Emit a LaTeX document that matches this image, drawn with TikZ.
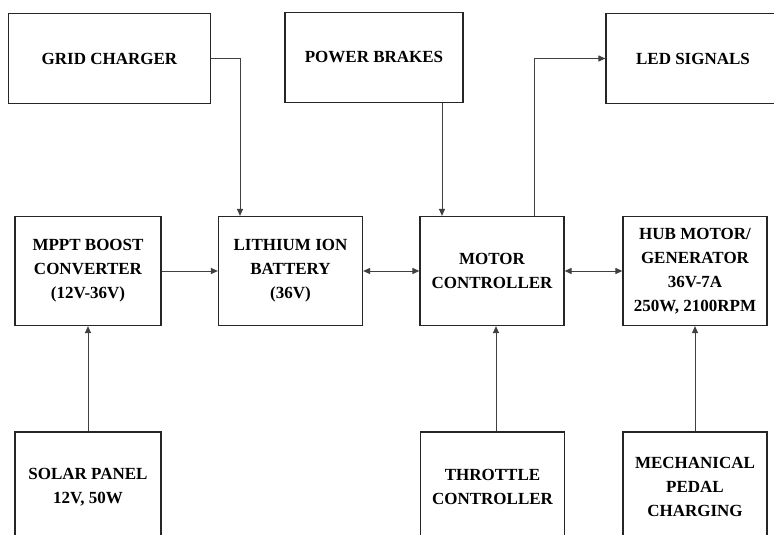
\documentclass[tikz,border=0pt]{standalone}
\usepackage{fontspec}
\setmainfont{Liberation Serif}
\usetikzlibrary{arrows.meta, positioning}

\begin{document}
\begin{tikzpicture}[
    x=1pt, y=-1pt,
    block/.style={rectangle, draw=black!85, line width=1.2pt, inner sep=0pt, minimum width=144pt, minimum height=109pt, text centered, align=center, font=\fontsize{17}{24}\selectfont\bfseries},
    topblock/.style={block, minimum height=90pt},
    arrow/.style={draw=black!75, line width=1pt, -{Triangle[length=7pt, width=6pt]}},
    darrow/.style={draw=black!75, line width=1pt, {Triangle[length=7pt, width=6pt]}-{Triangle[length=7pt, width=6pt]}}
]
\clip (0,0) rectangle (774,535);

\node (grid) [topblock, minimum width=202pt] at (109.5,58.5) {GRID CHARGER};
\node (brakes) [topblock, minimum width=178pt] at (374,57.5) {POWER BRAKES};
\node (led) [topblock, minimum width=174pt] at (693,58.5) {LED SIGNALS};

\node (mppt) [block, minimum width=146pt] at (88,271) {MPPT BOOST\\CONVERTER\\(12V-36V)};
\node (battery) [block] at (290.5,271) {LITHIUM ION\\BATTERY\\(36V)};
\node (ctrl) [block] at (492,271) {MOTOR\\CONTROLLER};
\node (hub) [block] at (695,271) {HUB MOTOR/\\GENERATOR\\36V-7A\\250W, 2100RPM};

\node (solar) [block, minimum width=146pt, minimum height=110pt] at (88,487) {SOLAR PANEL\\12V, 50W};
\node (throttle) [block, minimum height=110pt] at (492.5,487) {THROTTLE\\CONTROLLER};
\node (pedal) [block, minimum height=110pt] at (695,487) {MECHANICAL\\PEDAL\\CHARGING};

\coordinate (gridx) at (240,0);
\coordinate (brakex) at (442,0);
\coordinate (ledx) at (534,0);
\coordinate (thrx) at (496,0);

\draw [arrow] (grid.east) -| (gridx |- battery.north);
\draw [arrow] (brakex |- brakes.south) -- (brakex |- ctrl.north);
\draw [arrow] (ledx |- ctrl.north) |- (led.west);
\draw [arrow] (mppt.east) -- (battery.west);
\draw [darrow] (battery.east) -- (ctrl.west);
\draw [darrow] (ctrl.east) -- (hub.west);
\draw [arrow] (solar.north) -- (mppt.south);
\draw [arrow] (thrx |- throttle.north) -- (thrx |- ctrl.south);
\draw [arrow] (pedal.north) -- (hub.south);
\end{tikzpicture}
\end{document}
